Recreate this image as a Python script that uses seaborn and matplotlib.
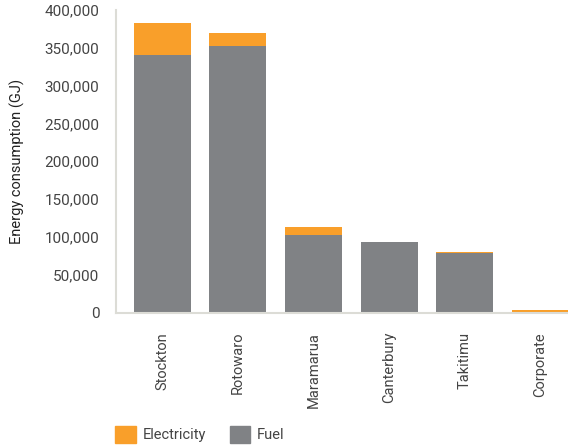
import matplotlib
matplotlib.use("Agg")
import matplotlib.pyplot as plt
import matplotlib.ticker as mticker
from matplotlib.patches import Patch
import seaborn as sns
import pandas as pd

sites = ["Stockton", "Rotowaro", "Maramarua", "Canterbury", "Takitimu", "Corporate"]
fuel = [340500, 352000, 102500, 93000, 78500, 0]
electricity = [42500, 17500, 10500, 0, 1300, 3500]

ORANGE = "#F99F2A"
GREY = "#808285"
AXIS = "#DCDCD6"
TEXT = "#444444"

sns.set_theme(style="white")
plt.rcParams["font.family"] = ["Roboto", "DejaVu Sans"]

df = pd.DataFrame({"site": sites, "fuel": fuel, "electricity": electricity})

fig = plt.figure(figsize=(5.68, 4.46), dpi=100)
ax = fig.add_axes([115.5 / 568, (446 - 312.5) / 446, 1 - 115.5 / 568, (312.5 - 10) / 446])

sns.barplot(data=df, x="site", y="fuel", color=GREY, width=0.755,
            saturation=1, ax=ax, linewidth=0)
sns.barplot(data=df, x="site", y="electricity", color=ORANGE, width=0.755,
            saturation=1, ax=ax, linewidth=0, bottom=df["fuel"])

ax.set_ylim(0, 400000)
ax.set_xlim(-0.622, 5.37)
ax.yaxis.set_major_locator(mticker.MultipleLocator(50000))
ax.yaxis.set_major_formatter(mticker.FuncFormatter(lambda v, p: f"{int(v):,}"))

for side in ["top", "right"]:
    ax.spines[side].set_visible(False)
for side in ["left", "bottom"]:
    ax.spines[side].set_color(AXIS)
    ax.spines[side].set_linewidth(1.5)

ax.tick_params(axis="y", length=0, pad=11.5, labelsize=11, labelcolor=TEXT)
ax.tick_params(axis="x", length=0, pad=14, labelsize=10.5, labelcolor=TEXT, labelrotation=90)
ax.set_xlabel("")
ax.set_ylabel("Energy consumption (GJ)", fontsize=10.5, color="#222222", labelpad=14)

handles = [Patch(color=ORANGE, label="Electricity"), Patch(color=GREY, label="Fuel")]
fig.legend(handles=handles, loc="lower left", bbox_to_anchor=(102 / 568, -0.022),
           ncol=2, frameon=False, prop={"size": 10.5},
           handlelength=1.4, handleheight=1.4,
           columnspacing=1.6, handletextpad=0.5, labelcolor=TEXT)

fig.savefig("out.png", dpi=100)
